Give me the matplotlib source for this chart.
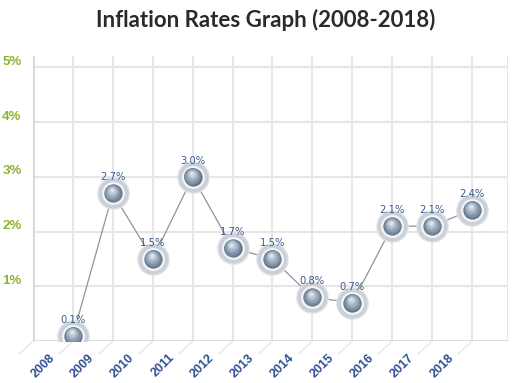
import matplotlib
matplotlib.use("Agg")
import matplotlib.pyplot as plt
from matplotlib.transforms import offset_copy

years = ["2008", "2009", "2010", "2011", "2012", "2013",
         "2014", "2015", "2016", "2017", "2018"]
rates = [0.1, 2.7, 1.5, 3.0, 1.7, 1.5, 0.8, 0.7, 2.1, 2.1, 2.4]
y_ticks = [1, 2, 3, 4, 5]
y_tick_labels = ["1%", "2%", "3%", "4%", "5%"]

fig = plt.figure(figsize=(5.12, 3.83), dpi=100)
ax = fig.add_axes([33 / 512, 42 / 383, 475 / 512, 285 / 383])
ax.set_xlim(0, 11.9)
ax.set_ylim(0, 5.21)
for s in ax.spines.values():
    s.set_visible(False)
ax.set_xticks([])
ax.set_yticks([])

grid_c = "#e6e6e6"
# back wall grid
for k in range(1, 12):
    ax.axvline(k, color=grid_c, lw=1.5, zorder=0)
ax.axvline(11.9, color=grid_c, lw=1.5, zorder=0)
for v in y_ticks:
    ax.axhline(v, color=grid_c, lw=1.5, zorder=0)
ax.axvline(0, color="#d8d8d8", lw=2, zorder=1)
ax.axhline(0, color="#d8d8d8", lw=2, zorder=1)

# floor diagonals
for k in range(0, 12):
    ax.plot([k, k - 0.35], [0, -0.24], color="#e8e8e8", lw=1,
            clip_on=False, zorder=0)

xs = list(range(1, len(years) + 1))

# line
ax.plot(xs, rates, color="#8e949c", lw=0.9, zorder=2)

# halo (soft grey ring)
ax.plot(xs, rates, "o", ms=23.5, color="#dfe2e6", mec="none", zorder=3)
ax.plot(xs, rates, "o", ms=21.5, color="#cbd0d6", mec="none", zorder=3)
ax.plot(xs, rates, "o", ms=16.5, color="#f3f5f7", mec="none", zorder=4)

# shaded ball
layers = [(13.2, "#63758c", 0, 0), (12.2, "#72849a", -0.2, 0.5),
          (10.8, "#8293a8", -0.4, 1.0), (9.3, "#92a2b5", -0.6, 1.6),
          (7.6, "#a3b2c3", -0.8, 2.1), (5.9, "#b5c2d0", -1.0, 2.6),
          (4.2, "#c9d3dd", -1.1, 3.1), (2.5, "#dde4ea", -1.2, 3.5)]
for i, (ms, c, dx, dy) in enumerate(layers):
    tr = offset_copy(ax.transData, fig=fig, x=dx, y=dy, units="dots")
    ax.plot(xs, rates, "o", ms=ms, color=c, mec="none", transform=tr,
            zorder=5 + i)

# value labels
for x, r in zip(xs, rates):
    ax.text(x, r + 16 / 54.7, f"{r:.1f}%", ha="center", va="center",
            fontsize=7.2, color="#3a5a8c", zorder=20)

# y labels
for v, lab in zip(y_ticks, y_tick_labels):
    ax.text(-0.53, v + 0.1, lab, ha="center", va="center", fontsize=9.5,
            fontweight="bold", color="#8cb52e", family="Liberation Sans")

# x labels
for x, lab in zip(xs, years):
    ax.text(x - 0.4, -0.2, lab, ha="right", va="top", rotation=45,
            fontsize=9, fontweight="bold", color="#2e4f94",
            family="Liberation Sans")

fig.text(266 / 512, 1 - 20 / 383, "Inflation Rates Graph (2008-2018)",
         ha="center", va="center", fontsize=16, fontweight="bold",
         family="Lato", color="#2a2a2a")

fig.savefig("out.png", dpi=100)
